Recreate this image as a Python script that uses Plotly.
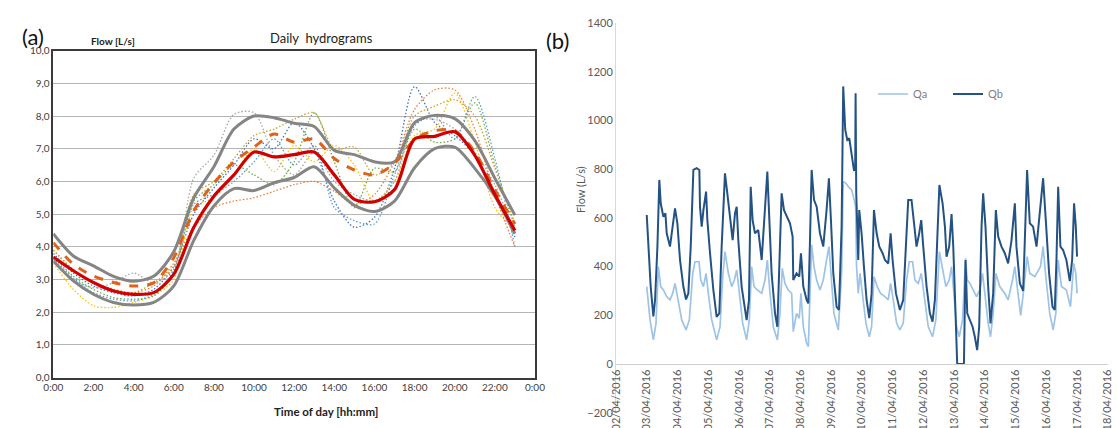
import plotly.graph_objects as go

# ---------------- Panel (a): daily hydrograms ----------------
hours = list(range(24))
hour_tick_vals = [0, 2, 4, 6, 8, 10, 12, 14, 16, 18, 20, 22, 24]
hour_tick_text = ["0:00", "2:00", "4:00", "6:00", "8:00", "10:00", "12:00",
                  "14:00", "16:00", "18:00", "20:00", "22:00", "0:00"]
flow_tick_vals = [0, 1, 2, 3, 4, 5, 6, 7, 8, 9, 10]
flow_tick_text = ["0,0", "1,0", "2,0", "3,0", "4,0", "5,0", "6,0", "7,0", "8,0", "9,0", "10,0"]

upper_gray = [4.4, 3.72, 3.42, 3.1, 2.95, 3.1, 3.85, 5.5, 6.45, 7.6, 8.0, 7.95,
              7.78, 7.68, 6.95, 6.82, 6.6, 6.6, 7.8, 8.02, 7.92, 7.25, 6.1, 4.97]
lower_gray = [3.57, 2.96, 2.55, 2.3, 2.22, 2.3, 2.8, 4.2, 5.25, 5.78, 5.72, 5.96,
              6.12, 6.45, 5.8, 5.27, 5.08, 5.4, 6.42, 7.0, 7.05, 6.4, 5.55, 4.4]
mean_red = [3.69, 3.27, 2.91, 2.65, 2.55, 2.6, 3.16, 4.6, 5.55, 6.2, 6.9, 6.75,
            6.82, 6.9, 6.2, 5.45, 5.38, 5.75, 7.3, 7.38, 7.52, 6.8, 5.6, 4.5]
dashed_orange = [4.13, 3.47, 3.11, 2.91, 2.8, 2.9, 3.67, 5.1, 5.95, 6.6, 7.05, 7.45,
                 7.2, 7.3, 6.7, 6.35, 6.2, 6.55, 7.28, 7.55, 7.55, 6.9, 5.75, 4.7]

day_1 = [3.8, 3.2, 2.8, 2.6, 2.5, 2.7, 3.4, 5.0, 5.8, 6.5, 7.3, 7.0,
         7.8, 7.0, 5.4, 4.6, 4.9, 6.4, 8.9, 7.8, 7.4, 6.8, 5.6, 4.3]
day_2 = [3.9, 3.3, 2.9, 2.7, 2.6, 2.8, 3.5, 4.6, 5.2, 5.4, 5.5, 5.7,
         5.9, 6.0, 5.7, 5.3, 5.6, 6.6, 8.2, 8.8, 8.8, 7.6, 5.6, 4.0]
day_3 = [3.5, 2.7, 2.2, 2.15, 2.3, 2.5, 3.0, 5.2, 5.5, 6.2, 7.0, 6.3,
         7.1, 6.6, 7.1, 6.5, 5.4, 6.0, 7.4, 7.6, 8.7, 7.2, 5.2, 4.5]
day_4 = [3.7, 3.1, 2.7, 2.45, 2.4, 2.5, 3.2, 5.4, 5.9, 6.5, 6.2, 5.9,
         6.6, 8.1, 6.6, 5.2, 6.4, 6.3, 7.6, 7.2, 7.3, 8.4, 6.5, 4.6]
day_5 = [3.6, 3.0, 2.75, 2.9, 3.2, 2.9, 3.3, 6.1, 6.8, 8.05, 8.1, 6.8,
         6.2, 6.9, 6.0, 5.6, 5.4, 6.0, 7.8, 7.9, 7.6, 6.9, 5.9, 4.4]
day_6 = [3.65, 3.05, 2.6, 2.4, 2.35, 2.55, 3.3, 5.3, 5.6, 6.0, 6.6, 7.3,
         6.5, 7.1, 5.2, 4.8, 4.7, 6.2, 7.7, 8.0, 7.3, 8.6, 6.7, 4.0]
day_7 = [3.9, 3.3, 2.9, 2.7, 2.6, 2.9, 3.4, 5.6, 6.0, 6.7, 7.4, 7.6,
         7.9, 8.1, 7.0, 7.05, 6.2, 6.6, 8.0, 8.3, 8.5, 8.0, 6.4, 4.7]

dotted_days = [day_1, day_2, day_3, day_4, day_5, day_6, day_7]
dotted_colors = ["#4472C4", "#ED7D31", "#FFC000", "#70AD47", "#A5A5A5", "#5B9BD5", "#C9A227"]

# ---------------- Panel (b): Qa / Qb time series ----------------
qb_time = [
    "2016-04-03 00:00", "2016-04-03 01:20", "2016-04-03 03:05", "2016-04-03 05:10", "2016-04-03 06:30",
    "2016-04-03 08:20", "2016-04-03 09:50", "2016-04-03 10:55", "2016-04-03 13:00", "2016-04-03 14:35",
    "2016-04-03 15:35", "2016-04-03 18:10", "2016-04-03 20:15", "2016-04-03 22:05", "2016-04-03 23:55",
    "2016-04-04 02:00", "2016-04-04 04:35", "2016-04-04 06:40", "2016-04-04 08:30", "2016-04-04 10:20",
    "2016-04-04 12:25", "2016-04-04 15:00", "2016-04-04 17:05", "2016-04-04 17:35", "2016-04-04 18:55",
    "2016-04-04 20:15", "2016-04-04 22:20", "2016-04-04 23:20", "2016-04-05 01:25", "2016-04-05 04:00",
    "2016-04-05 06:35", "2016-04-05 08:40", "2016-04-05 10:30", "2016-04-05 13:05", "2016-04-05 14:55",
    "2016-04-05 17:00", "2016-04-05 19:05", "2016-04-05 20:55", "2016-04-05 22:15", "2016-04-05 23:30",
    "2016-04-06 02:05", "2016-04-06 06:00", "2016-04-06 07:50", "2016-04-06 09:10", "2016-04-06 10:40",
    "2016-04-06 12:30", "2016-04-06 15:05", "2016-04-06 17:45", "2016-04-06 20:20", "2016-04-06 22:10",
    "2016-04-06 23:45", "2016-04-07 01:30", "2016-04-07 04:10", "2016-04-07 06:00", "2016-04-07 07:30",
    "2016-04-07 09:20", "2016-04-07 11:10", "2016-04-07 13:45", "2016-04-07 15:50", "2016-04-07 17:55",
    "2016-04-07 18:25", "2016-04-07 21:00", "2016-04-07 23:05", "2016-04-08 00:25", "2016-04-08 02:15",
    "2016-04-08 04:50", "2016-04-08 06:10", "2016-04-08 07:25", "2016-04-08 08:45", "2016-04-08 10:35",
    "2016-04-08 12:40", "2016-04-08 15:15", "2016-04-08 17:50", "2016-04-08 20:25", "2016-04-08 22:15",
    "2016-04-08 23:50", "2016-04-09 01:40", "2016-04-09 04:15", "2016-04-09 06:05", "2016-04-09 08:10",
    "2016-04-09 09:25", "2016-04-09 11:00", "2016-04-09 12:35", "2016-04-09 14:10", "2016-04-09 16:00",
    "2016-04-09 17:45", "2016-04-09 18:45", "2016-04-09 19:05", "2016-04-09 19:35", "2016-04-09 19:50",
    "2016-04-09 21:10", "2016-04-09 21:55", "2016-04-09 23:45", "2016-04-10 01:35", "2016-04-10 03:40",
    "2016-04-10 05:45", "2016-04-10 07:35", "2016-04-10 09:25", "2016-04-10 11:30", "2016-04-10 13:35",
    "2016-04-10 16:10", "2016-04-10 18:00", "2016-04-10 20:35", "2016-04-10 22:25", "2016-04-10 23:58",
    "2016-04-11 02:35", "2016-04-11 05:40", "2016-04-11 08:15", "2016-04-11 10:55", "2016-04-11 12:10",
    "2016-04-11 14:45", "2016-04-11 16:05", "2016-04-11 18:40", "2016-04-11 20:45", "2016-04-11 22:20",
    "2016-04-11 23:55", "2016-04-12 02:30", "2016-04-12 05:05", "2016-04-12 07:10", "2016-04-12 09:00",
    "2016-04-12 12:30", "2016-04-12 15:00", "2016-04-12 16:50", "2016-04-12 18:05", "2016-04-12 20:10",
    "2016-04-12 22:00", "2016-04-12 23:20", "2016-04-13 00:35", "2016-04-13 01:55", "2016-04-13 02:25",
    "2016-04-13 07:40", "2016-04-13 08:55", "2016-04-13 10:15", "2016-04-13 12:20", "2016-04-13 14:25",
    "2016-04-13 16:10", "2016-04-13 18:00", "2016-04-13 19:35", "2016-04-13 21:25", "2016-04-13 22:40",
    "2016-04-14 00:30", "2016-04-14 02:35", "2016-04-14 04:25", "2016-04-14 06:30", "2016-04-14 08:35",
    "2016-04-14 10:25", "2016-04-14 13:00", "2016-04-14 15:35", "2016-04-14 18:10", "2016-04-14 20:50",
    "2016-04-14 23:25", "2016-04-15 00:40", "2016-04-15 03:20", "2016-04-15 05:55", "2016-04-15 09:00",
    "2016-04-15 11:05", "2016-04-15 13:40", "2016-04-15 16:20", "2016-04-15 19:25", "2016-04-15 21:30",
    "2016-04-15 23:35", "2016-04-16 02:10", "2016-04-16 04:50", "2016-04-16 06:35", "2016-04-16 07:55",
    "2016-04-16 09:15", "2016-04-16 11:00", "2016-04-16 13:05", "2016-04-16 15:40", "2016-04-16 18:20",
    "2016-04-16 20:10", "2016-04-16 21:40", "2016-04-16 23:00", "2016-04-17 00:00",
]
qb_flow = [
    612, 468, 318, 195, 263, 482, 756, 660, 605, 619, 537, 482, 564, 639, 578,
    427, 318, 265, 290, 482, 797, 804, 797, 646, 564, 632, 708, 591, 455, 304,
    194, 208, 482, 783, 701, 591, 509, 619, 646, 509,
    318, 180, 263, 728, 591, 537, 550, 427, 632, 790,
    591, 372, 208, 153, 400, 701, 632, 605, 578, 523,
    345, 372, 359, 455, 318, 263, 249, 496, 797, 674,
    646, 537, 482, 632, 763, 591, 372, 235, 222, 564,
    1140, 961, 920, 927, 865, 797, 800, 1112, 700, 646,
    427, 632, 537, 400, 263, 188, 290, 632, 537, 482,
    455, 427, 413, 537, 427, 290, 222, 263, 537, 674,
    674, 605, 482, 537, 591, 482, 318, 208, 174, 263,
    735, 660, 564, 441, 482, 616, 482, 290, 71, 0,
    0, 427, 208, 181, 153, 112, 57, 153, 564, 701,
    564, 318, 167, 290, 632, 523, 482, 455, 413, 509,
    660, 482, 331, 300, 797, 578, 564, 482, 646, 763,
    591, 372, 235, 222, 427, 728, 482, 468, 427, 340,
    427, 660, 564, 441,
]

qa_time = [
    "2016-04-03 00:00", "2016-04-03 02:35", "2016-04-03 05:10", "2016-04-03 07:15", "2016-04-03 09:05",
    "2016-04-03 10:55", "2016-04-03 13:00", "2016-04-03 15:35", "2016-04-03 18:10", "2016-04-03 20:15",
    "2016-04-03 22:05", "2016-04-04 00:40", "2016-04-04 03:20", "2016-04-04 06:40", "2016-04-04 09:15",
    "2016-04-04 11:55", "2016-04-04 13:40", "2016-04-04 16:50", "2016-04-04 18:10", "2016-04-04 20:15",
    "2016-04-04 22:20", "2016-04-05 00:05", "2016-04-05 02:45", "2016-04-05 06:35", "2016-04-05 09:15",
    "2016-04-05 11:20", "2016-04-05 13:05", "2016-04-05 15:45", "2016-04-05 18:20", "2016-04-05 20:25",
    "2016-04-05 22:15", "2016-04-06 00:20", "2016-04-06 02:55", "2016-04-06 06:00", "2016-04-06 08:05",
    "2016-04-06 09:55", "2016-04-06 11:45", "2016-04-06 14:20", "2016-04-06 17:45", "2016-04-06 20:20",
    "2016-04-06 22:10", "2016-04-07 00:15", "2016-04-07 02:50", "2016-04-07 06:00", "2016-04-07 08:00",
    "2016-04-07 09:50", "2016-04-07 11:55", "2016-04-07 14:30", "2016-04-07 17:10", "2016-04-07 18:25",
    "2016-04-07 21:00", "2016-04-07 23:05", "2016-04-08 00:25", "2016-04-08 02:15", "2016-04-08 04:50",
    "2016-04-08 06:10", "2016-04-08 07:25", "2016-04-08 08:45", "2016-04-08 10:35", "2016-04-08 12:40",
    "2016-04-08 15:15", "2016-04-08 17:50", "2016-04-08 20:25", "2016-04-08 22:15", "2016-04-08 23:50",
    "2016-04-09 02:10", "2016-04-09 05:35", "2016-04-09 08:10", "2016-04-09 09:25", "2016-04-09 11:35",
    "2016-04-09 13:25", "2016-04-09 16:00", "2016-04-09 18:00", "2016-04-09 19:05", "2016-04-09 19:50",
    "2016-04-09 21:10", "2016-04-09 22:30", "2016-04-10 00:35", "2016-04-10 03:10", "2016-04-10 05:45",
    "2016-04-10 07:35", "2016-04-10 09:25", "2016-04-10 12:00", "2016-04-10 14:35", "2016-04-10 18:00",
    "2016-04-10 20:35", "2016-04-10 22:25", "2016-04-11 00:30", "2016-04-11 03:05", "2016-04-11 05:40",
    "2016-04-11 08:15", "2016-04-11 10:55", "2016-04-11 13:00", "2016-04-11 15:35", "2016-04-11 17:25",
    "2016-04-11 20:00", "2016-04-11 22:20", "2016-04-12 00:25", "2016-04-12 03:50", "2016-04-12 07:10",
    "2016-04-12 09:45", "2016-04-12 12:30", "2016-04-12 15:00", "2016-04-12 17:35", "2016-04-12 20:10",
    "2016-04-12 22:00", "2016-04-12 23:50", "2016-04-13 01:55", "2016-04-13 04:00", "2016-04-13 06:35",
    "2016-04-13 08:55", "2016-04-13 10:15", "2016-04-13 12:20", "2016-04-13 14:55", "2016-04-13 17:30",
    "2016-04-13 20:05", "2016-04-13 22:10", "2016-04-14 00:00", "2016-04-14 02:35", "2016-04-14 04:25",
    "2016-04-14 06:30", "2016-04-14 08:35", "2016-04-14 11:40", "2016-04-14 15:35", "2016-04-14 18:10",
    "2016-04-14 21:35", "2016-04-14 23:25", "2016-04-15 01:15", "2016-04-15 04:00", "2016-04-15 06:00",
    "2016-04-15 09:00", "2016-04-15 11:05", "2016-04-15 15:00", "2016-04-15 19:25", "2016-04-15 21:30",
    "2016-04-15 23:35", "2016-04-16 02:40", "2016-04-16 05:20", "2016-04-16 07:25", "2016-04-16 09:15",
    "2016-04-16 11:50", "2016-04-16 15:40", "2016-04-16 18:50", "2016-04-16 21:25", "2016-04-16 23:00",
    "2016-04-17 00:00",
]
qa_flow = [
    318, 181, 99, 167, 400, 318, 304, 277, 263, 290,
    331, 263, 181, 140, 181, 372, 420, 420, 345, 318,
    372, 290, 181, 99, 153, 359, 461, 372, 318, 345,
    386, 290, 167, 99, 181, 400, 318, 304, 290, 345,
    427, 290, 153, 99, 208, 393, 331, 304, 290, 133,
    208, 188, 290, 153, 85, 71, 290, 490, 400, 345,
    304, 345, 427, 482, 372, 208, 140, 372, 750, 742,
    728, 715, 674, 646, 400, 290, 372, 290, 167, 112,
    153, 359, 318, 290, 277, 263, 331, 263, 167, 140,
    167, 345, 420, 420, 345, 331, 372, 290, 153, 112,
    181, 461, 386, 318, 345, 400, 290, 153, 112, 181,
    434, 345, 331, 304, 277, 304, 372, 290, 167, 112,
    208, 372, 318, 290, 263, 345, 400, 318, 200, 290,
    441, 372, 359, 400, 482, 359, 208, 140, 208, 427,
    318, 304, 235, 413, 372, 290,
]

date_tick_vals = ["2016-04-%02d" % d for d in range(2, 19)]
date_tick_text = ["%02d/04/2016" % d for d in range(2, 19)]
flow_b_ticks = [-200, 0, 200, 400, 600, 800, 1000, 1200, 1400]

FONT = "Lato, 'Open Sans', sans-serif"
fig = go.Figure()

for vals, col in zip(dotted_days, dotted_colors):
    fig.add_trace(go.Scatter(x=hours, y=vals, mode="lines", xaxis="x", yaxis="y",
                             line=dict(color=col, width=1.3, dash="1.5px,2px", shape="spline", smoothing=0.8),
                             showlegend=False, hoverinfo="skip"))
for vals in (upper_gray, lower_gray):
    fig.add_trace(go.Scatter(x=hours, y=vals, mode="lines", xaxis="x", yaxis="y",
                             line=dict(color="#858585", width=3, shape="spline", smoothing=0.8),
                             showlegend=False))
fig.add_trace(go.Scatter(x=hours, y=dashed_orange, mode="lines", xaxis="x", yaxis="y",
                         line=dict(color="#E0621A", width=3, dash="dash", shape="spline", smoothing=0.8),
                         showlegend=False))
fig.add_trace(go.Scatter(x=hours, y=mean_red, mode="lines", xaxis="x", yaxis="y",
                         line=dict(color="#D00000", width=3.2, shape="spline", smoothing=0.8),
                         showlegend=False))

fig.add_trace(go.Scatter(x=qa_time, y=qa_flow, mode="lines", name="Qa", xaxis="x2", yaxis="y2",
                         line=dict(color="#9DC3E6", width=1.7)))
fig.add_trace(go.Scatter(x=qb_time, y=qb_flow, mode="lines", name="Qb", xaxis="x2", yaxis="y2",
                         line=dict(color="#245283", width=2)))

W, H = 1117, 428
zero_pos = (H - 364) / H

fig.update_layout(
    width=W, height=H, margin=dict(l=0, r=0, t=0, b=0, autoexpand=False),
    paper_bgcolor="white", plot_bgcolor="white",
    font=dict(family=FONT, color="#404040"),
    xaxis=dict(domain=[53.3 / W, 535 / W], range=[0, 24], tickvals=hour_tick_vals, ticktext=hour_tick_text,
               showgrid=False, showline=True, mirror=True, linecolor="#3a3a3a", linewidth=1.5,
               ticks="", tickfont=dict(size=10, color="#404040"), zeroline=False, anchor="y",
               automargin=False),
    yaxis=dict(domain=[(H - 377.7) / H, (H - 50.6) / H], range=[0, 10], tickvals=flow_tick_vals,
               ticktext=flow_tick_text, showgrid=True, gridcolor="#b5b5b5", gridwidth=1.3,
               showline=True, mirror=True, linecolor="#3a3a3a", linewidth=1.5, ticks="",
               tickfont=dict(size=10, color="#404040"), zeroline=False, anchor="x", automargin=False),
    xaxis2=dict(domain=[616 / W, 1107.8 / W], type="date", range=["2016-04-02", "2016-04-18"],
                tickvals=date_tick_vals, ticktext=date_tick_text, tickangle=-90,
                anchor="free", position=zero_pos, showgrid=False, showline=True,
                linecolor="#d0d0d0", linewidth=1.2, ticks="", zeroline=False,
                tickfont=dict(size=11, color="#595959"), automargin=False),
    yaxis2=dict(domain=[(H - 412.7) / H, (H - 23.1) / H], range=[-200, 1400], tickvals=flow_b_ticks,
                showgrid=False, showline=True, linecolor="#d9d9d9", linewidth=1, ticks="",
                zeroline=False, anchor="x2", tickfont=dict(size=11, color="#595959"), automargin=False),
    legend=dict(orientation="h", x=873 / W, y=(H - 94) / H, xanchor="left", yanchor="middle",
                font=dict(size=11, color="#7f7f7f"), bgcolor="rgba(0,0,0,0)",
                entrywidth=30, entrywidthmode="pixels"),
    annotations=[
        dict(text="(a)", x=21 / W, y=(H - 22) / H, xref="paper", yref="paper", showarrow=False,
             font=dict(size=22, color="#111111"), borderpad=0),
        dict(text="<b>Flow [L/s]</b>", x=89 / W, y=(H - 33) / H, xref="paper", yref="paper",
             showarrow=False, font=dict(size=10, color="#222222")),
        dict(text="Daily  hydrograms", x=268 / W, y=(H - 28) / H, xref="paper", yref="paper",
             showarrow=False, font=dict(size=13, color="#222222")),
        dict(text="<b>Time of day [hh:mm]</b>", x=272 / W, y=(H - 420) / H, xref="paper", yref="paper",
             showarrow=False, font=dict(size=11.5, color="#222222")),
        dict(text="(b)", x=557 / W, y=(H - 26) / H, xref="paper", yref="paper", showarrow=False,
             font=dict(size=22, color="#111111"), borderpad=0),
        dict(text="Flow (L/s)", x=580 / W, y=(H - 190) / H, xref="paper", yref="paper", showarrow=False,
             textangle=-90, font=dict(size=11, color="#595959")),
    ],
)

fig.write_html("out.html", config={"displayModeBar": False},
               post_script="document.body.style.margin='0px';")
